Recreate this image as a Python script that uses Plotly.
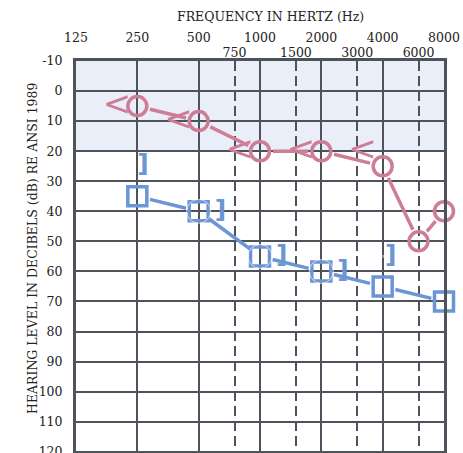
import numpy as np
import plotly.graph_objects as go

# ---- data ----
octave_freqs = [125, 250, 500, 1000, 2000, 4000, 8000]
octave_labels = ["125", "250", "500", "1000", "2000", "4000", "8000"]
mid_freqs = [750, 1500, 3000, 6000]
mid_labels = ["750", "1500", "3000", "6000"]
db_ticks = [-10, 0, 10, 20, 30, 40, 50, 60, 70, 80, 90, 100, 110, 120]

right_air_freq = [250, 500, 1000, 2000, 4000, 6000, 8000]
right_air_db = [5, 10, 20, 20, 25, 50, 40]
right_bone_freq = [250, 500, 1000, 2000, 4000]
right_bone_db = [5, 10, 20, 20, 20]

left_air_freq = [250, 500, 1000, 2000, 4000, 8000]
left_air_db = [35, 40, 55, 60, 65, 70]
left_bone_freq = [250, 500, 1000, 2000, 4000]
left_bone_db = [25, 40, 55, 60, 55]

normal_band = [-10, 20]

RED = "#CD7D95"
BLUE = "#6C95D6"
GRID = "#4E525B"
SERIF = "DejaVu Serif"

W, H = 463, 453
ML, MR, MT, MB = 76, 19, 61, 0
PW, PH = W - ML - MR, H - MT - MB
XR = [np.log10(125), np.log10(8000)]
YR = [120.4, -10]
px_per_dec = PW / (XR[1] - XR[0])
px_per_db = PH / (YR[0] - YR[1])


def gapped(freqs, dbs, gap=13):
    """Connecting segments that stop short of each marker."""
    xs, ys = [], []
    for i in range(len(freqs) - 1):
        u1, v1 = np.log10(freqs[i]) * px_per_dec, dbs[i] * px_per_db
        u2, v2 = np.log10(freqs[i + 1]) * px_per_dec, dbs[i + 1] * px_per_db
        L = np.hypot(u2 - u1, v2 - v1)
        if L <= 2 * gap:
            continue
        du, dv = (u2 - u1) / L, (v2 - v1) / L
        a = (u1 + du * gap, v1 + dv * gap)
        b = (u2 - du * gap, v2 - dv * gap)
        for p in (a, b):
            xs.append(10 ** (p[0] / px_per_dec))
            ys.append(p[1] / px_per_db)
        xs.append(None)
        ys.append(None)
    return xs, ys


def px_to_paper(x, y):
    """Window pixel position -> paper coordinates."""
    return (x - ML) / PW, (H - y) / PH


fig = go.Figure()

rx, ry = gapped(right_air_freq, right_air_db)
fig.add_trace(go.Scatter(x=rx, y=ry, mode="lines", line=dict(color=RED, width=3.5),
                         hoverinfo="skip", showlegend=False, cliponaxis=False))
lx, ly = gapped(left_air_freq, left_air_db)
fig.add_trace(go.Scatter(x=lx, y=ly, mode="lines", line=dict(color=BLUE, width=3.5),
                         hoverinfo="skip", showlegend=False, cliponaxis=False))

fig.add_trace(go.Scatter(
    x=right_air_freq, y=right_air_db, mode="markers", cliponaxis=False,
    marker=dict(symbol="circle-open", size=19, color=RED, line=dict(width=3.5, color=RED)),
    showlegend=False))
fig.add_trace(go.Scatter(
    x=right_bone_freq, y=right_bone_db, mode="markers+text", cliponaxis=False,
    text=["<"] * len(right_bone_freq), textposition="middle left",
    textfont=dict(family="DejaVu Sans", size=34, color=RED),
    marker=dict(size=8, color="rgba(0,0,0,0)"),
    showlegend=False))
fig.add_trace(go.Scatter(
    x=left_air_freq, y=left_air_db, mode="markers", cliponaxis=False,
    marker=dict(symbol="square-open", size=19, color=BLUE, line=dict(width=3.5, color=BLUE)),
    showlegend=False))
fig.add_trace(go.Scatter(
    x=left_bone_freq, y=left_bone_db, mode="markers+text", cliponaxis=False,
    text=["<b>]</b>"] * len(left_bone_freq), textposition="middle right",
    textfont=dict(family="DejaVu Sans", size=25, color=BLUE),
    marker=dict(size=[0, 24, 24, 24, 2], color="rgba(0,0,0,0)"),
    xaxis="x2", showlegend=False))

fig.add_shape(type="rect", xref="paper", x0=0, x1=1, yref="y",
              y0=normal_band[0], y1=normal_band[1],
              fillcolor="#E9EEF8", line=dict(width=0), layer="below")

tx, ty = px_to_paper(270, 17)
fig.add_annotation(text="FREQUENCY IN HERTZ (Hz)", xref="paper", yref="paper",
                   x=tx, y=ty, xanchor="center", yanchor="middle", showarrow=False,
                   font=dict(family=SERIF, size=12.5, color="#222"))
ax_, ay_ = px_to_paper(32, 248)
fig.add_annotation(text="HEARING LEVEL IN DECIBELS (dB) RE ANSI 1989",
                   xref="paper", yref="paper", textangle=-90,
                   x=ax_, y=ay_, xanchor="center", yanchor="middle",
                   showarrow=False, font=dict(family=SERIF, size=12.5, color="#222"))

fig.update_layout(
    width=W, height=H,
    margin=dict(l=ML, r=MR, t=MT, b=MB, autoexpand=False),
    paper_bgcolor="white", plot_bgcolor="rgba(0,0,0,0)",
    xaxis=dict(type="log", range=XR, side="top", automargin=False,
               tickvals=octave_freqs, ticktext=octave_labels,
               showgrid=True, gridcolor=GRID, gridwidth=2,
               showline=True, mirror=True, linecolor=GRID, linewidth=3,
               ticks="", ticklabelstandoff=11, zeroline=False,
               tickfont=dict(family=SERIF, size=12.5, color="#222")),
    xaxis2=dict(type="log", range=XR, side="top", overlaying="x", automargin=False,
                tickvals=mid_freqs, ticktext=mid_labels,
                showgrid=True, gridcolor=GRID, gridwidth=2, griddash="10px,5px",
                showline=False, ticks="", ticklabelstandoff=1, zeroline=False,
                tickfont=dict(family=SERIF, size=12.5, color="#222")),
    yaxis=dict(range=YR, tickvals=db_ticks, ticktext=[str(v) for v in db_ticks],
               automargin=False,
               showgrid=True, gridcolor=GRID, gridwidth=2,
               showline=True, mirror=True, linecolor=GRID, linewidth=3,
               ticks="", ticklabelstandoff=8, zeroline=False,
               ticklabeloverflow="allow",
               tickfont=dict(family=SERIF, size=12.5, color="#222")),
)

fig.write_html("out.html", config={"displayModeBar": False},
               post_script="document.body.style.margin='0';document.body.style.overflow='hidden';")
